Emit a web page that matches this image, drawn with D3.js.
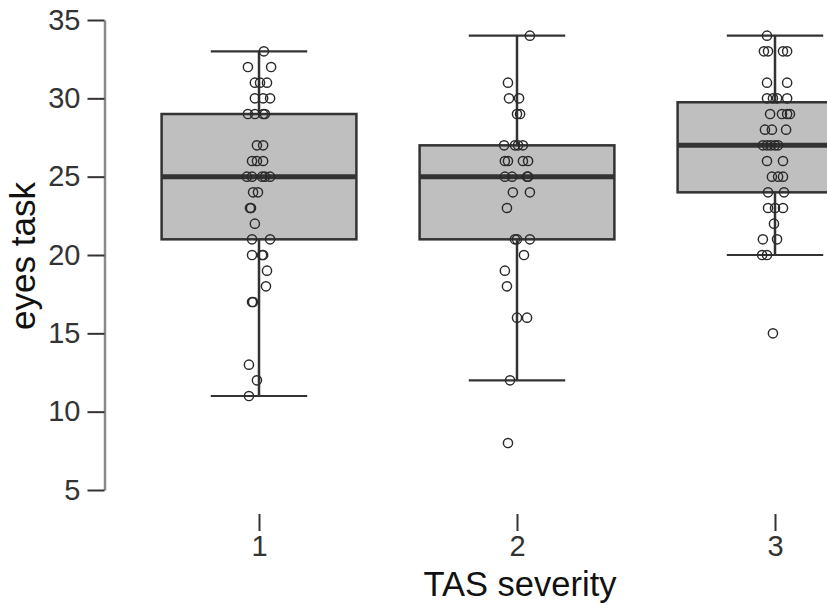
<!DOCTYPE html>
<html>
<head>
<meta charset="utf-8">
<script src="https://cdn.jsdelivr.net/npm/d3@7"></script>
<style>
  html, body { margin: 0; padding: 0; background: #fff; }
  svg { display: block; font-family: "Liberation Sans", Arial, sans-serif; }
</style>
</head>
<body>
<svg id="chart" width="827" height="606"></svg>
<script>
// TAS severity groups
const groups = ["1", "2", "3"];

// Box summaries per group: lower whisker, Q1, median, Q3, upper whisker
const whiskerLow  = [11, 12, 20];
const q1          = [21, 21, 24];
const medians     = [25, 25, 27];
const q3          = [29, 27, 29.75];
const whiskerHigh = [33, 34, 34];

// Individual eyes-task scores per group
const scores1 = [33, 32, 32, 31, 31, 31, 30, 30, 30, 29, 29, 29, 29, 27, 27, 26, 26, 26,
                 25, 25, 25, 25, 25, 24, 24, 23, 23, 22, 21, 21, 20, 20, 20, 19, 18, 17, 17, 13, 12, 11];
const scores2 = [34, 31, 30, 30, 29, 29, 27, 27, 27, 27, 26, 26, 26, 26, 25, 25, 25, 25,
                 24, 24, 23, 21, 21, 21, 20, 19, 18, 16, 16, 12, 8];
const scores3 = [34, 33, 33, 33, 33, 31, 31, 30, 30, 30, 30, 29, 29, 29, 29, 28, 28, 28,
                 27, 27, 27, 27, 27, 26, 26, 25, 25, 25, 24, 24, 23, 23, 23, 22, 21, 21, 20, 20, 15];

// Horizontal jitter of each score, in units of the group axis
const jitter1 = [0.019, -0.043, 0.047, -0.016, 0.004, 0.031, -0.016, 0.016, 0.043, -0.043, -0.016, 0.016, 0.023,
                 -0.008, 0.016, -0.027, -0.008, 0.016, -0.047, -0.027, 0.012, 0.023, 0.043, -0.023, -0.004,
                 -0.035, -0.031, -0.016, -0.027, 0.043, -0.027, 0.012, 0.016, 0.031, 0.027, -0.027, -0.023,
                 -0.039, -0.008, -0.039];
const jitter2 = [0.050, -0.035, -0.031, 0.008, 0.000, 0.012, -0.050, -0.008, 0.004, 0.023, -0.047, -0.035,
                 0.023, 0.043, -0.047, -0.019, 0.039, 0.043, -0.016, 0.050, -0.039, -0.008, 0.000, 0.050,
                 0.027, -0.047, -0.039, 0.000, 0.039, -0.027, -0.035];
const jitter3 = [-0.031, -0.043, -0.027, 0.031, 0.047, -0.031, 0.047, -0.031, -0.008, 0.008, 0.047, -0.019,
                 0.027, 0.047, 0.058, -0.039, -0.012, 0.043, -0.047, -0.031, -0.016, 0.000, 0.012, -0.031,
                 0.031, -0.012, 0.012, 0.031, -0.027, 0.035, -0.027, 0.000, 0.031, -0.004, -0.047, 0.008,
                 -0.050, -0.031, -0.008];

const yTicks = [5, 10, 15, 20, 25, 30, 35];

const scoresByGroup = [scores1, scores2, scores3];
const jitterByGroup = [jitter1, jitter2, jitter3];

const svg = d3.select("#chart");
const ink = "#333";

const y = d3.scaleLinear().domain([5, 35]).range([490, 20]);
const xPos = d3.scalePoint().domain(groups).range([259, 775]);
const xNum = d3.scaleLinear().domain([1, 3]).range([259, 775]);
const boxW = xPos.step() * 0.755;
const capW = boxW * 0.495;

// boxes and whiskers
const boxes = groups.map((g, i) => ({
  g, lo: whiskerLow[i], q1: q1[i], med: medians[i], q3: q3[i], hi: whiskerHigh[i]
}));

const bx = svg.append("g").attr("class", "boxes");
boxes.forEach(b => {
  const cx = xPos(b.g);
  const grp = bx.append("g");
  grp.append("line")
    .attr("x1", cx).attr("x2", cx)
    .attr("y1", y(b.hi)).attr("y2", y(b.lo))
    .attr("stroke", ink).attr("stroke-width", 2.5);
  [b.lo, b.hi].forEach(v => {
    grp.append("line")
      .attr("x1", cx - capW / 2).attr("x2", cx + capW / 2)
      .attr("y1", y(v)).attr("y2", y(v))
      .attr("stroke", ink).attr("stroke-width", 2.2);
  });
  grp.append("rect")
    .attr("x", cx - boxW / 2).attr("width", boxW)
    .attr("y", y(b.q3)).attr("height", y(b.q1) - y(b.q3))
    .attr("fill", "#bfbfbf").attr("stroke", ink).attr("stroke-width", 2.5);
  grp.append("line")
    .attr("x1", cx - boxW / 2).attr("x2", cx + boxW / 2)
    .attr("y1", y(b.med)).attr("y2", y(b.med))
    .attr("stroke", ink).attr("stroke-width", 5);
});

// jittered raw scores
const pts = [];
scoresByGroup.forEach((arr, i) => {
  arr.forEach((v, k) => pts.push({ x: i + 1 + jitterByGroup[i][k], v }));
});
svg.append("g").attr("class", "points")
  .selectAll("circle").data(pts).join("circle")
  .attr("cx", d => xNum(d.x))
  .attr("cy", d => y(d.v))
  .attr("r", 4.6)
  .attr("fill", "none")
  .attr("stroke", "#2a2a2a")
  .attr("stroke-width", 1.45);

// y axis
const yAxis = svg.append("g")
  .attr("transform", "translate(104.5,0)")
  .call(d3.axisLeft(y).tickValues(yTicks).tickSize(17).tickSizeOuter(0).tickPadding(7));
yAxis.select(".domain").attr("stroke", "#8a8a8a").attr("stroke-width", 2.5);
yAxis.selectAll(".tick line").attr("stroke", ink).attr("stroke-width", 2);
yAxis.selectAll(".tick text")
  .attr("font-size", 29).attr("fill", ink)
  .attr("font-family", "Liberation Sans, Arial, sans-serif");

// x axis (ticks only)
const xAxis = svg.append("g")
  .attr("transform", "translate(0,514)")
  .call(d3.axisBottom(xPos).tickSize(17).tickSizeOuter(0).tickPadding(4));
xAxis.select(".domain").remove();
xAxis.selectAll(".tick line").attr("stroke", ink).attr("stroke-width", 2);
xAxis.selectAll(".tick text")
  .attr("font-size", 29).attr("fill", ink)
  .attr("font-family", "Liberation Sans, Arial, sans-serif");

// axis titles
svg.append("text")
  .attr("x", 520).attr("y", 596)
  .attr("text-anchor", "middle")
  .attr("font-size", 34.5).attr("fill", "#111")
  .text("TAS severity");

svg.append("text")
  .attr("transform", "translate(35,256) rotate(-90)")
  .attr("text-anchor", "middle")
  .attr("font-size", 35).attr("fill", "#111")
  .text("eyes task");
</script>
</body>
</html>
